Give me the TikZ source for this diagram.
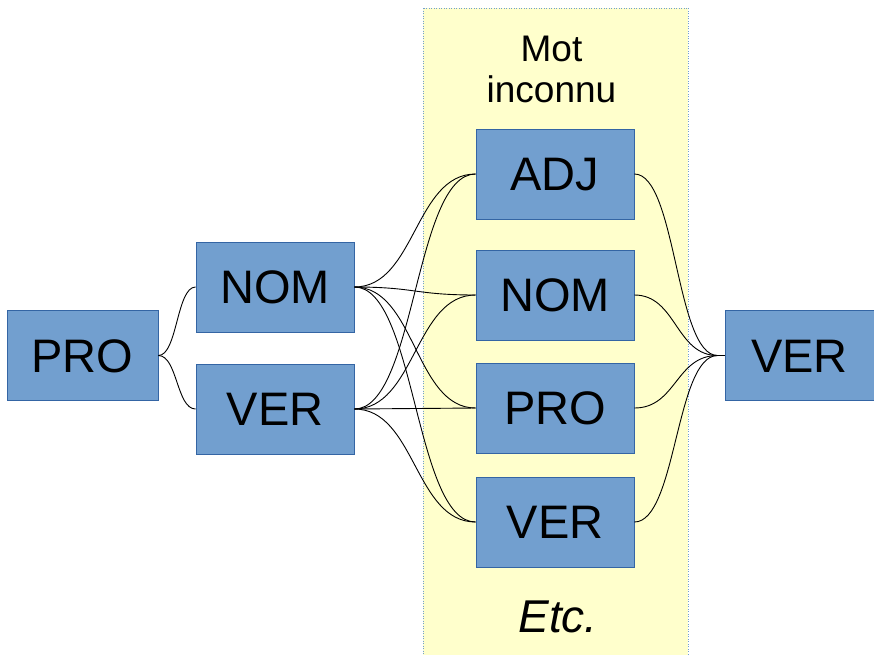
\documentclass[tikz,border=0pt]{standalone}
\usepackage{fontspec}
\setmainfont{Liberation Sans}
\definecolor{boxfill}{RGB}{114,159,207}
\definecolor{boxline}{RGB}{52,101,164}
\definecolor{panelfill}{RGB}{255,255,204}
\definecolor{paneldots}{RGB}{114,159,207}
\begin{document}
\begin{tikzpicture}[x=1pt,y=-1pt,
  tagbox/.style={draw=boxline, line width=0.8pt, fill=boxfill,
    minimum width=158pt, minimum height=90pt, inner sep=0pt,
    font=\fontsize{47}{50}\selectfont, text height=33.5pt, text depth=0pt},
  wire/.style={draw=black, line width=0.9pt},
  panel/.style={fill=panelfill, draw=paneldots, line width=1pt,
    dash pattern=on 1pt off 1.5pt}
]
\useasboundingbox (0,0) rectangle (874,654);

% column of candidate tags for the unknown word
\path[panel] (423,8) rectangle (688,660);
\node[anchor=north, inner sep=0pt, align=center,
  font=\fontsize{37}{41}\selectfont] (title) at (551.5,35.5) {Mot\\inconnu};
\node[anchor=base, inner sep=0pt, font=\fontsize{46}{50}\selectfont\itshape]
  (etc) at (558,632) {Etc.};

% tag boxes
\node[tagbox, minimum width=151pt] (pro0) at (82.5,355.5) {PRO};
\node[tagbox] (nom1) at (275,287) {NOM};
\node[tagbox] (ver1) at (275,409) {VER};
\node[tagbox] (adj2) at (555,174) {ADJ};
\node[tagbox] (nom2) at (555,295) {NOM};
\node[tagbox] (pro2) at (555,408) {PRO};
\node[tagbox] (ver2) at (555,522) {VER};
\node[tagbox, minimum width=149pt] (ver3) at (799.5,355.5) {VER};

% transitions
\foreach \b in {nom1,ver1}
  \draw[wire] (pro0.east) .. controls +(19,0) and +(-19,0) .. (\b.west);
\foreach \a in {nom1,ver1}
  \foreach \b in {adj2,nom2,pro2,ver2}
    \draw[wire] (\a.east) .. controls +(61,0) and +(-61,0) .. (\b.west);
\foreach \a in {adj2,nom2,pro2,ver2}
  \draw[wire] (\a.east) .. controls +(42,0) and +(-42,0) .. ([xshift=-7pt]ver3.west) -- (ver3.west);
\end{tikzpicture}
\end{document}
